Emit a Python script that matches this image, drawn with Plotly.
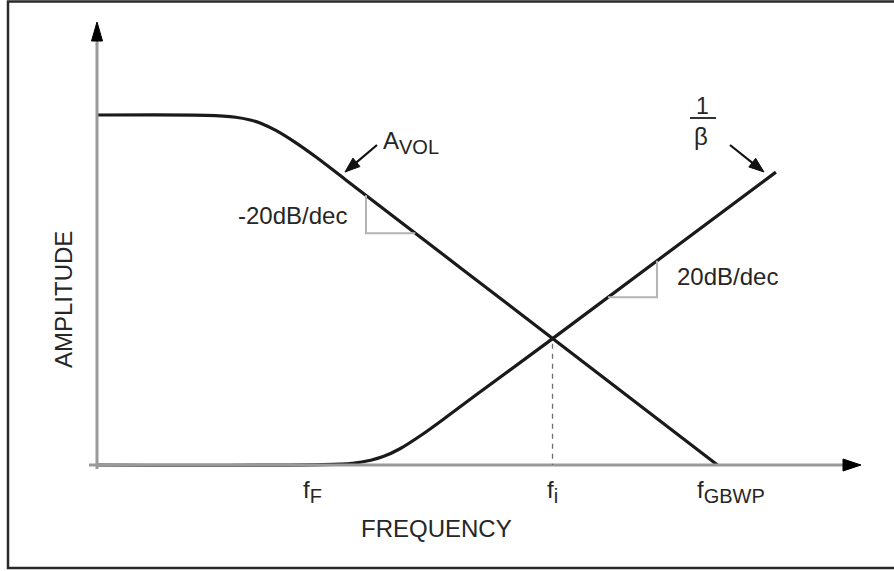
import numpy as np
import plotly.graph_objects as go

# ---------------------------------------------------------------
# Bode magnitude sketch: open-loop gain A_VOL and noise gain 1/beta
# x = log frequency (decades from the left edge), y = amplitude (dB)
# ---------------------------------------------------------------
avol_dec = [0, 1.5, 1.9, 2.1, 2.25, 2.45, 2.7, 3.0, 3.4, 6.25, 8.5]
avol_db = [125, 124.9, 124.2, 123.2, 122.0, 119.5, 115.5, 110.0, 102.0, 45.0, 0]

beta_dec = [0, 3.1, 3.5, 3.75, 3.92, 4.15, 4.45, 4.8, 5.2, 6.25, 9.3]
beta_db = [0, 0.1, 0.6, 1.7, 3.0, 5.8, 10.8, 17.4, 25.2, 45.3, 104.6]

# intersection of the two curves (f_i)
fi_dec, fi_db = 6.24, 45.3

# marked frequencies on the horizontal axis
freq_main = ["f", "f", "f"]
freq_sub = ["F", "i", "GBWP"]
freq_label_dec = [2.95, 6.24, 8.68]

# ---------------- canvas / scale ----------------
W, H = 894, 571
X0_PX, Y0_PX = 97, 465          # origin in pixels
PX_PER_DEC = 73.0
PX_PER_DB = 2.8


def px2x(px):
    return (px - X0_PX) / PX_PER_DEC


def px2y(py):
    return (Y0_PX - py) / PX_PER_DB


def dx_px(d):
    return d / PX_PER_DEC


def dy_px(d):
    return d / PX_PER_DB


INK = "#1a1a1a"
AXIS_GREY = "#9a9a9a"
TRI_GREY = "#b4b4b4"
TEXT = "#262626"
FONT = "Liberation Sans, Arial, Helvetica, sans-serif"

fig = go.Figure()

shapes = []

# axes (grey lines)
y_top = px2y(40)
x_right = px2x(846)
shapes.append(dict(type="line", xref="x", yref="y", x0=0, y0=px2y(469), x1=0, y1=y_top,
                   line=dict(color=AXIS_GREY, width=3)))
shapes.append(dict(type="line", xref="x", yref="y", x0=px2x(89), y0=0, x1=x_right, y1=0,
                   line=dict(color=AXIS_GREY, width=3)))


def arrow_head(tip_x, tip_y, dir_px, length, half_w, color="#000"):
    """Filled triangle with its point at (tip_x, tip_y); dir_px is the
    pointing direction in screen pixels (y downward)."""
    ux, uy = dir_px
    n = (ux ** 2 + uy ** 2) ** 0.5
    ux, uy = ux / n, uy / n
    px_, py_ = -uy, ux
    bx, by = -ux * length, -uy * length
    pts = [(0, 0), (bx + px_ * half_w, by + py_ * half_w), (bx - px_ * half_w, by - py_ * half_w)]
    path = "M " + " L ".join(f"{tip_x + dx_px(a):.4f},{tip_y - dy_px(b):.4f}" for a, b in pts) + " Z"
    return dict(type="path", xref="x", yref="y", path=path,
                fillcolor=color, line=dict(color=color, width=1))


# axis arrowheads
shapes.append(arrow_head(0, px2y(22), (0, -1), 19, 5.5))
shapes.append(arrow_head(px2x(861), 0, (1, 0), 18, 6))

# dashed guide at f_i
shapes.append(dict(type="line", xref="x", yref="y", x0=fi_dec, y0=fi_db - 2, x1=fi_dec, y1=0,
                   line=dict(color="#6e6e6e", width=1.3, dash="5px,5px")))

# slope triangles, hung from the straight parts of the curves
xa, xb = 3.685, 4.36
ya, yb = np.interp(xa, avol_dec, avol_db), np.interp(xb, avol_dec, avol_db)
shapes.append(dict(type="path", xref="x", yref="y",
                   path=f"M {xa},{ya} L {xa},{yb} L {xb},{yb}",
                   line=dict(color=TRI_GREY, width=2)))

xc, xd = 7.0, 7.671
yc, yd = np.interp(xc, beta_dec, beta_db), np.interp(xd, beta_dec, beta_db)
shapes.append(dict(type="path", xref="x", yref="y",
                   path=f"M {xc},{yc} L {xd},{yc} L {xd},{yd}",
                   line=dict(color=TRI_GREY, width=2)))

# label pointer arrows
for (tx, ty), (hx, hy) in [((px2x(377), px2y(145)), (px2x(345), px2y(172))),
                           ((px2x(730), px2y(145)), (px2x(764), px2y(172)))]:
    dpx = ((hx - tx) * PX_PER_DEC, -(hy - ty) * PX_PER_DB)
    n = (dpx[0] ** 2 + dpx[1] ** 2) ** 0.5
    sx = hx - dx_px(dpx[0] / n * 10)
    sy = hy + dy_px(dpx[1] / n * 10)
    shapes.append(dict(type="line", xref="x", yref="y", x0=tx, y0=ty, x1=sx, y1=sy,
                       line=dict(color="#111", width=2.2)))
    shapes.append(arrow_head(hx, hy, dpx, 15, 5.5, color="#111"))

# fraction bar of 1/beta
shapes.append(dict(type="line", xref="x", yref="y", x0=px2x(690), y0=px2y(118),
                   x1=px2x(716), y1=px2y(118), line=dict(color="#333", width=2)))

# outer frame
shapes.append(dict(type="rect", xref="paper", yref="paper",
                   x0=8 / W, x1=1.01, y0=1 - 568 / H, y1=1 - 1.5 / H,
                   line=dict(color="#2a2a2a", width=2.5)))

# curves
fig.add_trace(go.Scatter(x=beta_dec, y=beta_db, mode="lines",
                         line=dict(color=INK, width=3.2, shape="spline", smoothing=0.9),
                         hoverinfo="skip", showlegend=False))
fig.add_trace(go.Scatter(x=avol_dec, y=avol_db, mode="lines",
                         line=dict(color=INK, width=3.2, shape="spline", smoothing=0.9),
                         hoverinfo="skip", showlegend=False))

annotations = []


def label(text, px, py, size=24, xanchor="center", angle=0):
    annotations.append(dict(text=text, x=px2x(px), y=px2y(py), xref="x", yref="y",
                            showarrow=False, xanchor=xanchor, yanchor="middle",
                            textangle=angle, font=dict(family=FONT, size=size, color=TEXT)))


def with_sub(main, sub, sub_size):
    return f"{main}<sub><span style='font-size:{sub_size}px'>{sub}</span></sub>"


label(with_sub("A", "VOL", 20), 381, 142, size=24, xanchor="left")
label("-20dB/dec", 292, 215, size=24)
label("20dB/dec", 727, 276, size=24)
label("1", 702, 106, size=23)
label("\u03b2", 701, 136, size=24)
for m, s, d in zip(freq_main, freq_sub, freq_label_dec):
    label(with_sub(m, s, 20), X0_PX + d * PX_PER_DEC, 491, size=24)
label("FREQUENCY", 436, 528, size=24)
label("AMPLITUDE", 63, 300, size=24, angle=-90)

fig.update_layout(
    width=W, height=H,
    margin=dict(l=0, r=0, t=0, b=0),
    paper_bgcolor="white", plot_bgcolor="white",
    xaxis=dict(range=[px2x(0), px2x(W)], visible=False, fixedrange=True),
    yaxis=dict(range=[px2y(H), px2y(0)], visible=False, fixedrange=True),
    shapes=shapes, annotations=annotations,
    showlegend=False,
)

fig.write_html("out.html")
